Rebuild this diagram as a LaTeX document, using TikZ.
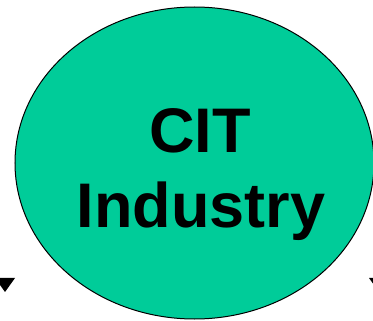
\documentclass[tikz,border=0pt]{standalone}
\usepackage{fontspec}
\setmainfont{Liberation Sans}
\definecolor{citgreen}{RGB}{0,204,153}
\tikzset{
  bubble/.style={ellipse, draw=black, line width=1pt, fill=citgreen, minimum width=359pt, minimum height=312pt, inner sep=0pt},
  bigtext/.style={font=\fontsize{63}{75}\selectfont\bfseries, inner sep=0pt, anchor=base},
  tip/.style={fill=black, draw=none}
}
\usetikzlibrary{shapes.geometric}
\begin{document}
\begin{tikzpicture}[x=1pt,y=-1pt]
\useasboundingbox (0,0) rectangle (373,321);
\clip (0,0) rectangle (373,321);
\node[bubble] (ell) at (194.5,163) {};
\node[bigtext] (cit) at (200,153) {CIT};
\node[bigtext] (ind) at (201,228) {Industry};
\fill[tip] (-5,278) -- (15,278) -- (5,292) -- cycle;
\fill[tip] (369,278) -- (389,278) -- (379,292) -- cycle;
\end{tikzpicture}
\end{document}
